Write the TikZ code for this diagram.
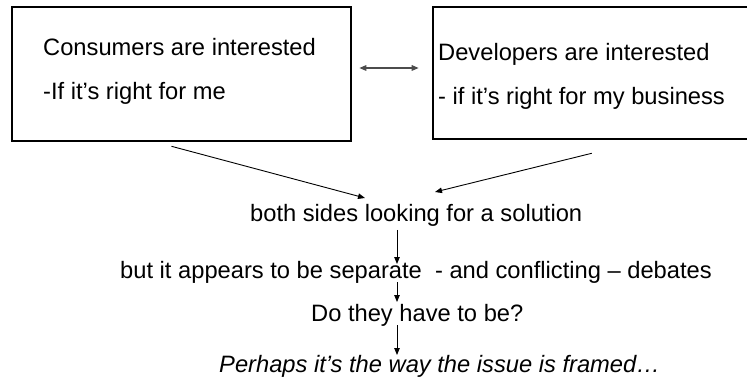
\documentclass[tikz,border=0pt]{standalone}
\usepackage{fontspec}
\setmainfont{Liberation Sans}
\usetikzlibrary{arrows.meta,calc}
\tikzset{
  frame/.style={draw, line width=2.6pt, inner sep=0pt},
  line/.style={anchor=base west, inner sep=0pt, font=\fontsize{23.7}{28}\selectfont},
  slant/.style={line, font=\fontsize{23.7}{28}\selectfont\itshape},
  arr/.style={-{Triangle[length=7pt,width=5.5pt]}, line width=0.9pt},
  dbl/.style={{Triangle[length=7pt,width=5.5pt]}-{Triangle[length=7pt,width=5.5pt]}, line width=1.5pt, black!70}
}
\begin{document}
\begin{tikzpicture}[x=1pt,y=-1pt]
  \useasboundingbox (0,0) rectangle (747,382);
  \node[frame, minimum width=339pt, minimum height=134pt] (cons) at (181.5,74) {};
  \node[frame, minimum width=330pt, minimum height=132pt] (dev) at (598,73) {};
  \node[line] (consA) at (43,55.5) {Consumers are interested};
  \node[line] (consB) at (43,99.5) {-If it’s right for me};
  \node[line] (devA) at (438,61) {Developers are interested};
  \node[line] (devB) at (438,105) {- if it’s right for my business};
  \node[line] (both) at (250,222) {both sides looking for a solution};
  \node[line] (but) at (120,278) {but it appears to be separate\ \ - and conflicting – debates};
  \node[line] (ask) at (311,321) {Do they have to be?};
  \node[slant] (framed) at (219,372) {Perhaps it’s the way the issue is framed…};
  \coordinate (stem) at (397,0);
  \begin{scope}
    \draw[dbl] ($(cons.east)+(7,-6)$) -- ($(dev.west)+(-13,-5)$);
    \draw[arr] ($(cons.south)+(-10,4)$) -- ($(both.base west)+(115,-24)$);
    \draw[arr] ($(dev.south west)+(160,13)$) -- ($(both.base west)+(185,-30)$);
    \draw[arr] ($(stem |- both.base)+(0,8)$) -- ($(stem |- but.base)+(0,-14)$);
    \draw[arr] ($(stem |- but.base)+(0,4)$) -- ($(stem |- ask.base)+(0,-19)$);
    \draw[arr] ($(stem |- ask.base)+(0,4)$) -- ($(stem |- framed.base)+(0,-17)$);
  \end{scope}
\end{tikzpicture}
\end{document}
